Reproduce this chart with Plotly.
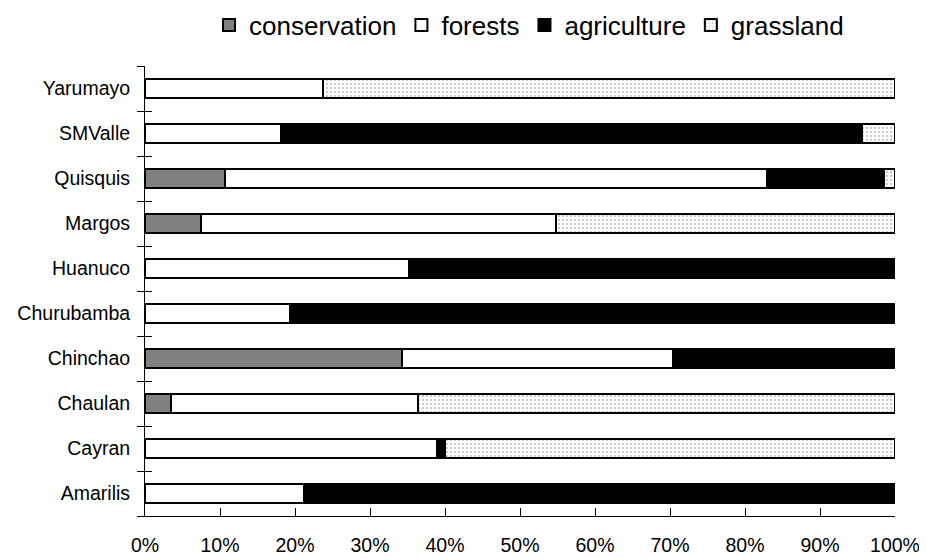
import plotly.graph_objects as go

sites = ["Amarilis", "Cayran", "Chaulan", "Chinchao", "Churubamba",
         "Huanuco", "Margos", "Quisquis", "SMValle", "Yarumayo"]
conservation = [None, None, 3.5, 34.2, None, None, 7.5, 10.6, None, None]
forests = [21.2, 38.9, 32.9, 36.2, 19.3, 35.2, 47.3, 72.3, 18.1, 23.7]
agriculture = [78.8, 1.1, None, 29.6, 80.7, 64.8, None, 15.6, 77.5, None]
grassland = [None, 60.0, 63.6, None, None, None, 45.2, 1.5, 4.4, 76.3]
x_ticks = [0, 10, 20, 30, 40, 50, 60, 70, 80, 90, 100]
x_tick_labels = ["0%", "10%", "20%", "30%", "40%", "50%", "60%", "70%", "80%", "90%", "100%"]

FONT = "Liberation Sans, Arial, sans-serif"
line = dict(color="black", width=2)

fig = go.Figure()
fig.add_trace(go.Bar(y=sites, x=conservation, name="conservation", orientation="h",
                     marker=dict(color="#808080", line=line)))
fig.add_trace(go.Bar(y=sites, x=forests, name="forests", orientation="h",
                     marker=dict(color="white", line=line)))
fig.add_trace(go.Bar(y=sites, x=agriculture, name="agriculture", orientation="h",
                     marker=dict(color="black", line=line)))
fig.add_trace(go.Bar(y=sites, x=grassland, name="grassland", orientation="h",
                     marker=dict(color="white", line=line,
                                 pattern=dict(shape=".", fgcolor="#8a8a8a", bgcolor="white",
                                              size=4, solidity=0.25))))
# helper trace so the secondary (tick-only) axis is drawn
fig.add_trace(go.Scatter(x=[None], y=[None], yaxis="y2", showlegend=False, hoverinfo="skip"))

fig.update_layout(
    width=927, height=559,
    margin=dict(l=137, r=40, t=58, b=51, autoexpand=False),
    barmode="stack", bargap=0.58,
    paper_bgcolor="white", plot_bgcolor="white",
    font=dict(family=FONT, size=19.5, color="black"),
    showlegend=True,
    legend=dict(orientation="h", x=0.512, xanchor="center", y=1.091, yanchor="middle",
                font=dict(size=26), itemwidth=30, traceorder="normal",
                bgcolor="rgba(0,0,0,0)"),
    xaxis=dict(range=[0, 100], tickvals=x_ticks, ticktext=x_tick_labels,
               showgrid=False, zeroline=False, showline=True, linecolor="black", linewidth=1,
               ticks="inside", ticklen=8, tickcolor="black", tickwidth=1,
               ticklabelstandoff=12),
    yaxis=dict(type="category", categoryorder="array", categoryarray=sites,
               range=[-0.5, 9.5], showgrid=False, zeroline=False,
               showline=True, linecolor="black", linewidth=1,
               ticks="outside", tickson="boundaries", ticklen=7, tickcolor="black",
               tickwidth=1, ticklabelstandoff=10),
    yaxis2=dict(overlaying="y", anchor="x", range=[-0.5, 9.5],
                tickvals=[i - 0.5 for i in range(11)],
                showticklabels=False, ticks="inside", ticklen=7, tickcolor="black",
                showgrid=False, zeroline=False, showline=False, side="left"),
)

fig.write_html("out.html")
